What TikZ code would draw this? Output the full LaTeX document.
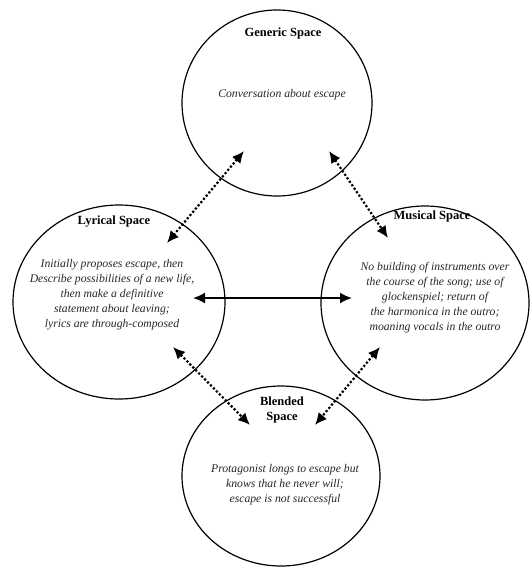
\documentclass[tikz,border=0pt]{standalone}
\usepackage{fontspec}
\setmainfont{Liberation Serif}
\usetikzlibrary{shapes.geometric, arrows.meta}

\tikzset{
    space/.style={ellipse, draw, line width=1.2pt, inner sep=0pt},
    spacetitle/.style={font=\bfseries\fontsize{12.5}{15}\selectfont, align=center},
    spacetext/.style={font=\itshape\fontsize{11.7}{15}\selectfont, text=black!85, align=center},
    dotlink/.style={line width=2.2pt, dash pattern=on 2.2pt off 2pt, {Latex[length=12pt,width=11pt]}-{Latex[length=12pt,width=11pt]}},
    link/.style={line width=1.8pt, {Latex[length=12pt,width=11pt]}-{Latex[length=12pt,width=11pt]}}
}

\begin{document}
\begin{tikzpicture}[x=1pt, y=-1pt]
            \useasboundingbox (0,0) rectangle (530,567);

            \node[space, minimum width=190pt, minimum height=186pt] (generic) at (277,103) {};
            \node[space, minimum width=212pt, minimum height=194pt] (lyrical) at (119,302) {};
            \node[space, minimum width=208pt, minimum height=194pt] (musical) at (425,303) {};
            \node[space, minimum width=198pt, minimum height=180pt] (blended) at (281,476) {};

            \node[spacetitle] (generictitle) at (283,33) {Generic Space};
            \node[spacetitle] (lyricaltitle) at (114,222) {Lyrical Space};
            \node[spacetitle] (musicaltitle) at (432,216) {Musical Space};
            \node[spacetitle] (blendedtitle) at (282,410) {Blended\\Space};

            \node[spacetext] (generictext) at (282,95) {Conversation about escape};
            \node[spacetext] (lyricaltext) at (112,295) {Initially proposes escape, then\\Describe possibilities of a new life,\\then make a definitive\\statement about leaving;\\lyrics are through-composed};
            \node[spacetext] (musicaltext) at (435,298) {No building of instruments over\\the course of the song; use of\\glockenspiel; return of\\the harmonica in the outro;\\moaning vocals in the outro};
            \node[spacetext] (blendedtext) at (285,485) {Protagonist longs to escape but\\knows that he never will;\\escape is not successful};

            \coordinate (gl) at (244,151);
            \coordinate (lg) at (167,243);
            \coordinate (gm) at (329,151);
            \coordinate (mg) at (388,238);
            \coordinate (lb) at (173,347);
            \coordinate (bl) at (250,425);
            \coordinate (mb) at (380,347);
            \coordinate (bm) at (315,425);
            \coordinate (lm) at (193,298);
            \coordinate (ml) at (352,298);

            \draw[dotlink] (gl) -- (lg);
            \draw[dotlink] (gm) -- (mg);
            \draw[dotlink] (lb) -- (bl);
            \draw[dotlink] (mb) -- (bm);
            \draw[link] (lm) -- (ml);
\end{tikzpicture}
\end{document}
